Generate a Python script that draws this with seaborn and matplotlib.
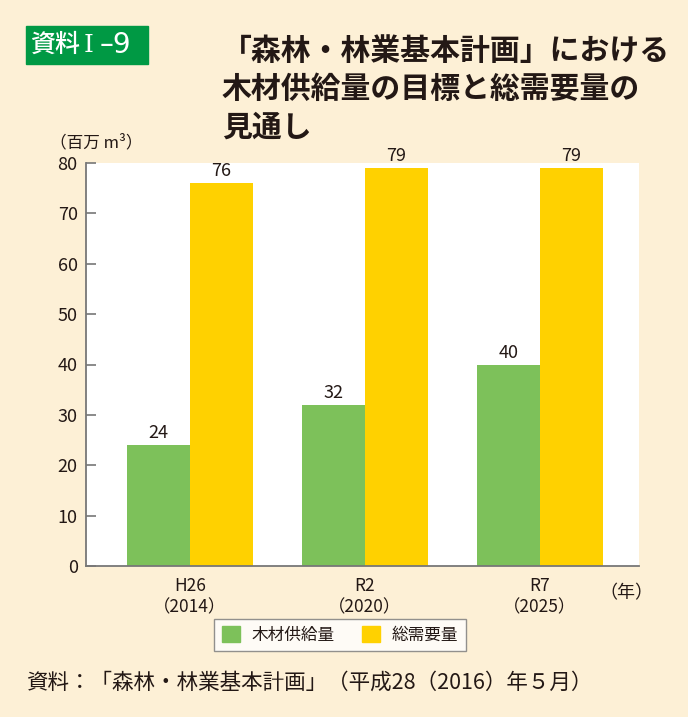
import pandas as pd
import numpy as np
import seaborn as sns
from matplotlib import pyplot as plt
from matplotlib.patches import Rectangle

# data
years = ['H26\n（2014）', 'R2\n（2020）', 'R7\n（2025）']
series = ['木材供給量', '総需要量']
supply = [24, 32, 40]
demand = [76, 79, 79]
yticks = [0, 10, 20, 30, 40, 50, 60, 70, 80]

BG = '#FDF0D6'
GREEN = '#7DC15A'
YELLOW = '#FFD100'
INK = '#231815'

sns.set_theme(style='white')
plt.rcParams['font.family'] = ['Noto Sans CJK JP', 'DejaVu Sans']

df = pd.DataFrame({
    'year': years * 2,
    'kind': [series[0]] * 3 + [series[1]] * 3,
    'value': supply + demand,
})

fig = plt.figure(figsize=(6.88, 7.17), dpi=100, facecolor=BG)
ax = fig.add_axes([86 / 688, 1 - 566 / 717, (639 - 86) / 688, (566 - 163) / 717])
ax.set_facecolor('white')

sns.barplot(data=df, x='year', y='value', hue='kind', order=years, hue_order=series,
            palette=[GREEN, YELLOW], width=0.72, gap=0, saturation=1,
            edgecolor='none', ax=ax)

for cont in ax.containers:
    ax.bar_label(cont, fontsize=13, padding=2, color=INK)

ax.set_ylim(0, 80)
ax.set_xlim(-0.594, 2.566)
ax.set_yticks(yticks)
ax.set_xlabel('')
ax.set_ylabel('')
ax.tick_params(axis='y', direction='in', length=7, width=1.2, color='#777777',
               labelsize=13, labelcolor=INK, pad=6, left=True)
ax.tick_params(axis='x', length=0, labelsize=12.5, labelcolor=INK, pad=8)
for s in ['top', 'right']:
    ax.spines[s].set_visible(False)
for s in ['left', 'bottom']:
    ax.spines[s].set_color('#777777')
    ax.spines[s].set_linewidth(1.3)

ax.get_legend().remove()
handles = [Rectangle((0, 0), 1, 1, color=GREEN), Rectangle((0, 0), 1, 1, color=YELLOW)]
leg = fig.legend(handles, series, loc='center', bbox_to_anchor=(340 / 688, 1 - 635 / 717),
                 ncol=2, fontsize=12, frameon=True, fancybox=False, handlelength=1.1,
                 handleheight=1.1, columnspacing=1.6, borderpad=0.45, handletextpad=0.7)
leg.get_frame().set_edgecolor('#777777')
leg.get_frame().set_linewidth(1.0)
leg.get_frame().set_facecolor('white')
for t in leg.get_texts():
    t.set_color(INK)

# header badge, pieces placed one by one to keep them tight
fig.patches.append(Rectangle((26 / 688, 1 - 64 / 717), 122 / 688, 38 / 717,
                             transform=fig.transFigure, color='#009944'))
badge_y = 1 - 45 / 717
fig.text(30 / 688, badge_y, '資料', color='white', fontsize=18, fontweight='medium',
         ha='left', va='center')
fig.text(89 / 688, badge_y, 'I', color='white', fontsize=18, ha='center', va='center',
         family=['DejaVu Serif'])
fig.text(100 / 688, badge_y, '–9', color='white', fontsize=20, ha='left', va='center',
         family=['DejaVu Sans'])

fig.text(222 / 688, 1 - 89 / 717, '「森林・林業基本計画」における\n木材供給量の目標と総需要量の\n見通し',
         fontsize=21.5, fontweight='bold', color=INK, ha='left', va='center',
         linespacing=1.35)

fig.text(50 / 688, 1 - 143 / 717, '（百万 m³）', fontsize=12, color=INK,
         ha='left', va='center')
fig.text(626 / 688, 1 - 593 / 717, '（年）', fontsize=13, color=INK,
         ha='center', va='center')
fig.text(26 / 688, 1 - 683 / 717, '資料：「森林・林業基本計画」（平成28（2016）年５月）',
         fontsize=15.5, color=INK, ha='left', va='center')

fig.savefig('out.png', dpi=100, facecolor=BG)
